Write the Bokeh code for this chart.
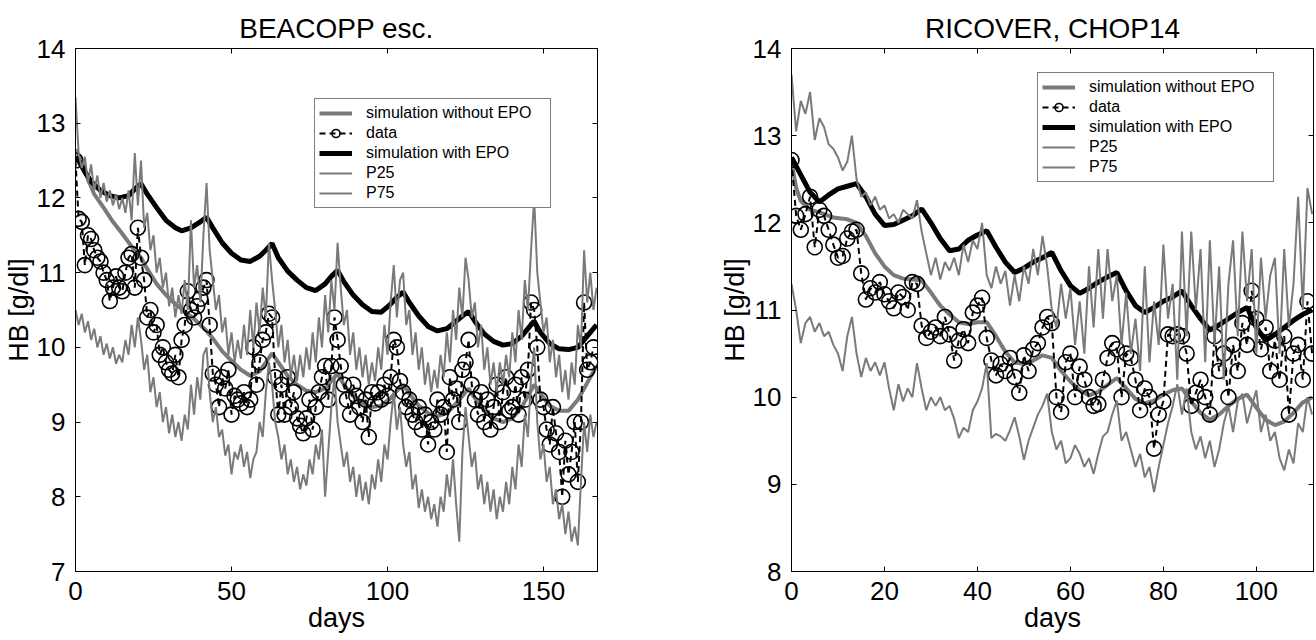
from bokeh.plotting import figure
from bokeh.models import FixedTicker, LinearAxis, Legend, LegendItem, Range1d
from bokeh.layouts import row
from bokeh.embed import file_html
from bokeh.resources import INLINE

FONT = "Liberation Sans"
GRAY = "#7a7a7a"

# ---------------- BEACOPP esc. ----------------
b_title = "BEACOPP esc."
b_xticks = [0, 50, 100, 150]
b_yticks = [7, 8, 9, 10, 11, 12, 13, 14]

b_sim_days = [0, 2, 4, 6, 9, 12, 15, 18, 21, 23, 26, 29, 32, 35, 38, 42, 44, 47, 50, 53, 56, 59, 61, 63,
              65, 68, 71, 74, 77, 80, 82, 84, 86, 89, 92, 95, 98, 101, 103, 105, 107, 110, 113, 116, 119,
              122, 124, 126, 128, 131, 134, 137, 140, 143, 145, 147, 149, 152, 155, 158, 161, 163, 165, 167]
b_sim_noepo = [12.65, 12.5, 12.25, 12.05, 11.87, 11.68, 11.52, 11.35, 11.2, 11.05, 10.85, 10.7, 10.58, 10.48,
               10.38, 10.22, 10.12, 9.95, 9.82, 9.7, 9.62, 9.68, 9.8, 9.92, 9.8, 9.62, 9.5, 9.42, 9.4, 9.45,
               9.55, 9.65, 9.5, 9.35, 9.25, 9.2, 9.22, 9.32, 9.42, 9.5, 9.38, 9.22, 9.12, 9.08, 9.12, 9.25,
               9.35, 9.45, 9.32, 9.15, 9.05, 9.0, 9.05, 9.2, 9.35, 9.5, 9.38, 9.22, 9.15, 9.15, 9.3, 9.45,
               9.6, 9.75]

b_epo_days = [0, 1, 3, 5, 8, 11, 14, 17, 19, 21, 23, 26, 29, 32, 34, 37, 40, 42, 44, 47, 50, 53, 56, 59, 61,
              63, 65, 68, 71, 74, 77, 80, 82, 84, 86, 89, 92, 95, 98, 101, 103, 105, 107, 110, 113, 116, 119,
              122, 124, 126, 128, 131, 134, 137, 140, 143, 145, 147, 149, 152, 155, 158, 161, 163, 165, 167]
b_sim_epo = [12.55, 12.5, 12.35, 12.22, 12.1, 12.03, 12.0, 12.03, 12.12, 12.19, 12.05, 11.87, 11.7, 11.6,
             11.56, 11.6, 11.68, 11.74, 11.6, 11.4, 11.26, 11.17, 11.15, 11.22, 11.3, 11.39, 11.2, 11.02,
             10.9, 10.8, 10.76, 10.85, 10.95, 11.03, 10.88, 10.7, 10.57, 10.48, 10.47, 10.58, 10.67, 10.74,
             10.6, 10.42, 10.28, 10.22, 10.25, 10.35, 10.42, 10.48, 10.35, 10.18, 10.08, 10.03, 10.05,
             10.15, 10.25, 10.35, 10.2, 10.05, 9.98, 9.97, 10.0, 10.1, 10.2, 10.3]

b_data_days = list(range(167))
b_data = [12.5, 11.72, 11.68, 11.1, 11.5, 11.45, 11.3, 11.2, 11.15, 11.0, 10.9, 10.62, 10.8, 10.95, 10.8,
          10.75, 11.0, 11.2, 11.25, 10.8, 11.6, 11.2, 10.9, 10.4, 10.5, 10.2, 10.3, 9.9, 10.0, 9.8, 9.7,
          9.65, 9.9, 9.6, 10.1, 10.3, 10.75, 10.5, 10.4, 10.55, 10.65, 10.8, 10.9, 10.3, 9.65, 9.5, 9.2,
          9.6, 9.45, 9.7, 9.1, 9.35, 9.3, 9.25, 9.4, 9.2, 9.3, 10.0, 9.5, 9.8, 10.1, 10.2, 10.45, 10.4,
          9.6, 9.1, 9.5, 9.1, 9.6, 9.2, 9.4, 9.05, 8.95, 8.85, 9.05, 9.3, 8.9, 9.2, 9.4, 9.6, 9.75, 9.3,
          9.75, 10.4, 10.1, 9.75, 9.5, 9.3, 9.1, 9.5, 9.35, 9.2, 9.0, 9.3, 8.8, 9.4, 9.25, 9.4, 9.3, 9.5,
          9.35, 9.6, 10.1, 10.0, 9.55, 9.4, 9.2, 9.3, 9.1, 9.0, 9.2, 8.9, 9.1, 8.7, 9.0, 8.9, 9.3, 9.1,
          9.2, 8.6, 9.6, 9.3, 9.45, 9.0, 9.7, 9.8, 10.1, 9.5, 9.3, 9.1, 9.4, 9.0, 9.3, 8.9, 9.2, 9.5,
          9.0, 9.4, 9.6, 9.15, 9.2, 9.5, 9.1, 9.6, 9.3, 9.7, 10.6, 10.5, 10.0, 9.3, 9.2, 8.9, 8.7, 9.2,
          8.85, 8.6, 8.0, 8.75, 8.3, 8.6, 9.0, 8.2, 9.0, 10.6, 9.7, 9.8, 10.0]

b_p_days = list(range(168))
b_p25 = [10.5, 10.3, 10.45, 10.2, 10.35, 10.1, 10.25, 10.0, 10.15, 9.9, 10.05, 9.85, 10.0, 9.78, 9.9, 9.8,
         10.1, 9.9, 10.3, 10.0, 10.4, 10.1, 9.7, 9.9, 9.4, 9.6, 9.2, 9.4, 9.0, 9.2, 8.85, 9.1, 8.8, 9.0,
         8.75, 9.1, 8.9, 9.5, 9.1, 9.6, 9.3, 9.9, 10.0, 9.4, 9.0, 9.2, 8.8, 8.9, 8.55, 8.7, 8.3, 8.6, 8.5,
         8.7, 8.4, 8.6, 8.25, 8.5, 8.6, 9.0, 8.8, 9.4, 9.8, 9.5, 9.0, 8.8, 8.5, 8.7, 8.3, 8.5, 8.2, 8.4,
         8.1, 8.3, 8.15, 8.5, 8.3, 8.7, 8.5, 8.9, 8.0, 8.6, 9.2, 9.6, 9.0, 8.7, 8.4, 8.6, 8.2, 8.4, 8.0,
         8.3, 7.95, 8.2, 7.9, 8.3, 8.1, 8.5, 8.2, 8.7, 8.5, 9.0, 9.4, 8.9, 9.2, 8.7, 8.4, 8.6, 8.1, 8.3,
         7.85, 8.1, 7.8, 8.0, 7.7, 7.9, 7.6, 8.0, 7.8, 8.3, 8.0, 8.5, 7.9, 7.4, 8.6, 9.2, 8.8, 8.4, 8.6,
         8.1, 8.3, 7.9, 8.2, 7.8, 8.1, 7.7, 8.0, 7.8, 8.2, 7.9, 8.4, 8.1, 8.7, 8.4, 9.1, 8.8, 9.6, 10.0,
         9.0, 8.5, 8.7, 8.2, 8.4, 7.9, 8.1, 7.7, 7.9, 7.5, 7.8, 7.4, 7.6, 7.35, 8.2, 9.0, 8.6, 9.1, 8.8,
         9.0]
b_p75 = [13.35, 12.6, 12.4, 12.55, 12.2, 12.45, 12.1, 12.3, 12.0, 12.2, 11.95, 12.1, 11.9, 12.05, 11.85,
         12.0, 11.8, 12.1, 11.7, 12.6, 11.9, 12.5, 11.6, 11.8, 11.3, 11.5, 11.0, 11.2, 10.8, 11.0, 10.55,
         10.8, 10.4, 10.7, 10.45, 10.9, 10.5, 11.7, 10.8, 11.1, 10.6, 11.5, 12.2, 11.3, 10.9, 10.5, 10.7,
         10.2, 10.4, 9.9, 10.2, 9.8, 10.1, 9.85, 10.3, 9.9, 10.5, 10.0, 10.6, 10.2, 10.8, 10.4, 11.4, 10.9,
         10.5, 10.0, 10.3, 9.8, 10.1, 9.6, 9.9, 9.55, 9.9, 9.6, 10.0, 9.7, 10.2, 9.8, 10.4, 10.0, 10.7,
         10.2, 10.9, 10.5, 11.4, 10.8, 10.3, 10.5, 9.9, 10.2, 9.7, 10.0, 9.6, 9.9, 9.5, 9.8, 9.55, 10.0,
         9.7, 10.3, 9.9, 10.6, 11.1, 10.4, 10.9, 11.0, 10.3, 10.5, 9.9, 10.2, 9.7, 10.0, 9.5, 9.8, 9.4,
         9.7, 9.45, 9.9, 9.6, 10.2, 9.8, 10.5, 10.1, 10.8, 10.4, 11.2, 10.9, 10.4, 10.6, 10.0, 10.3, 9.7,
         10.0, 9.5, 9.8, 9.4, 9.8, 9.5, 9.9, 9.6, 10.2, 9.8, 10.5, 10.1, 10.9, 10.5, 11.3, 12.0, 11.0,
         10.6, 10.2, 10.4, 9.8, 10.1, 9.6, 9.9, 9.4, 9.7, 9.3, 9.8, 9.5, 10.3, 10.0, 11.3, 10.6, 11.0,
         10.5, 10.8]

# ---------------- RICOVER, CHOP14 ----------------
r_title = "RICOVER, CHOP14"
r_xticks = [0, 20, 40, 60, 80, 100]
r_yticks = [8, 9, 10, 11, 12, 13, 14]

r_sim_days = [0, 1, 2, 4, 6, 9, 12, 14, 16, 18, 20, 22, 24, 26, 28, 30, 32, 34, 36, 38, 40, 42, 44, 46, 48,
              50, 52, 54, 56, 58, 60, 62, 64, 66, 68, 70, 72, 74, 76, 78, 80, 82, 84, 86, 88, 90, 92, 94,
              96, 98, 100, 102, 104, 106, 108, 110, 112]
r_sim_noepo = [12.7, 12.4, 12.25, 12.15, 12.12, 12.06, 12.04, 12.0, 11.85, 11.65, 11.5, 11.4, 11.36, 11.35,
               11.34, 11.2, 11.05, 10.95, 10.86, 10.84, 10.86, 10.86, 10.7, 10.52, 10.4, 10.38, 10.42,
               10.48, 10.45, 10.3, 10.18, 10.08, 10.02, 10.06, 10.14, 10.22, 10.1, 9.98, 9.93, 9.96, 10.03,
               10.08, 10.1, 9.95, 9.82, 9.74, 9.8, 9.9, 9.98, 10.03, 9.88, 9.74, 9.68, 9.72, 9.82, 9.94, 10.0]

r_epo_days = [0, 2, 4, 6, 8, 10, 12, 14, 16, 18, 20, 22, 24, 26, 28, 30, 32, 34, 36, 38, 40, 42, 44, 46, 48,
              50, 52, 54, 56, 58, 60, 62, 64, 66, 68, 70, 72, 74, 76, 78, 80, 82, 84, 86, 88, 90, 92, 94,
              96, 98, 100, 102, 104, 106, 108, 110, 112]
r_sim_epo = [12.75, 12.55, 12.35, 12.24, 12.32, 12.39, 12.42, 12.45, 12.3, 12.1, 11.97, 11.98, 12.03,
             12.08, 12.16, 12.0, 11.82, 11.68, 11.7, 11.8, 11.86, 11.91, 11.72, 11.55, 11.43, 11.48, 11.55,
             11.6, 11.66, 11.45, 11.28, 11.19, 11.25, 11.32, 11.38, 11.43, 11.22, 11.05, 10.97, 11.03, 11.1,
             11.15, 11.22, 11.05, 10.9, 10.77, 10.83, 10.9, 10.97, 11.03, 10.8, 10.65, 10.72, 10.8, 10.88,
             10.95, 11.0]

r_data_days = list(range(113))
r_data = [12.72, 12.08, 11.92, 12.1, 12.3, 11.72, 12.15, 12.08, 11.92, 11.75, 11.6, 11.62, 11.82, 11.9,
          11.92, 11.42, 11.12, 11.25, 11.2, 11.32, 11.18, 11.1, 11.02, 11.2, 11.15, 11.0, 11.32, 11.3,
          10.82, 10.68, 10.75, 10.8, 10.7, 10.92, 10.72, 10.42, 10.65, 10.78, 10.62, 10.97, 11.05, 11.14,
          10.68, 10.42, 10.25, 10.38, 10.3, 10.45, 10.23, 10.05, 10.48, 10.3, 10.55, 10.62, 10.8, 10.92,
          10.85, 10.0, 9.83, 10.4, 10.5, 10.0, 10.35, 10.2, 10.0, 9.9, 9.92, 10.2, 10.45, 10.62, 10.55,
          10.0, 10.5, 10.45, 10.2, 9.85, 10.1, 10.0, 9.41, 9.8, 9.95, 10.72, 10.7, 10.72, 10.7, 10.5, 9.9,
          10.05, 10.2, 10.0, 9.8, 10.7, 10.3, 10.5, 10.0, 10.6, 10.3, 10.85, 10.6, 11.22, 10.9, 10.55,
          10.8, 10.3, 10.65, 10.2, 10.7, 9.8, 10.5, 10.6, 10.2, 11.1, 10.5]

r_p_days = list(range(113))
r_p25 = [11.3, 11.0, 10.62, 10.85, 10.92, 10.75, 10.85, 10.7, 10.75, 10.6, 10.5, 10.3, 10.7, 10.92, 10.5,
         10.23, 10.45, 10.3, 10.4, 10.25, 10.4, 10.1, 9.85, 10.15, 9.95, 10.1, 10.0, 10.39, 10.1, 9.85,
         10.0, 9.9, 10.0, 9.85, 9.9, 9.75, 9.53, 9.65, 9.6, 9.85, 9.95, 10.1, 10.39, 9.53, 9.58, 9.55, 9.5,
         9.62, 9.77, 9.55, 9.28, 9.5, 9.65, 9.8, 9.9, 10.04, 9.6, 9.4, 9.5, 9.24, 9.3, 9.45, 9.35, 9.2,
         9.3, 9.12, 9.35, 9.55, 9.6, 9.8, 9.96, 9.5, 9.6, 9.4, 9.2, 9.35, 9.08, 9.2, 8.91, 9.2, 9.45, 9.7,
         9.9, 10.15, 9.8, 10.1, 9.6, 9.4, 9.55, 9.3, 9.5, 9.2, 9.4, 9.7, 9.9, 9.6, 9.95, 10.04, 9.7, 9.9,
         10.08, 9.6, 9.8, 9.5, 9.6, 9.3, 9.16, 9.4, 9.24, 9.7, 9.6, 10.0, 9.8]
r_p75 = [13.7, 13.05, 13.4, 13.25, 13.5, 12.95, 13.2, 13.1, 12.9, 12.85, 12.75, 12.6, 12.7, 13.0, 12.5, 12.3,
         12.35, 12.2, 12.3, 12.15, 12.2, 12.05, 12.1, 12.0, 12.15, 12.1, 12.05, 12.26, 11.9, 11.65, 11.4,
         11.6, 11.35, 11.55, 11.45, 11.6, 11.4, 11.75, 11.55, 11.8, 11.7, 12.0, 11.4, 11.25, 11.5, 11.3,
         11.45, 11.05, 11.4, 11.1, 11.5, 11.3, 11.7, 11.4, 11.85, 11.5, 11.0, 10.8, 11.3, 10.9, 11.25,
         10.6, 11.1, 10.5, 11.5, 10.8, 11.7, 10.9, 11.7, 11.1, 11.4, 10.6, 11.2, 10.5, 10.9, 10.3, 11.5,
         10.4, 11.1, 10.6, 11.75, 10.9, 11.3, 10.2, 11.9, 10.7, 11.9, 11.0, 11.7, 10.4, 11.8, 10.6, 11.5,
         10.2, 11.3, 11.8, 10.7, 11.9, 11.1, 11.7, 10.5, 11.6, 10.9, 11.4, 11.6, 10.5, 11.7, 10.8, 11.3,
         12.3, 11.0, 12.4, 12.1]


def style_axis(ax, ticks, show_labels=True):
    ax.ticker = FixedTicker(ticks=ticks)
    ax.axis_line_color = "black"
    ax.axis_line_width = 1
    ax.major_tick_line_color = "black"
    ax.major_tick_in = 5
    ax.major_tick_out = 0
    ax.minor_tick_line_color = None
    ax.major_label_text_font = FONT
    if show_labels:
        ax.major_label_text_color = "black"
        ax.major_label_text_font_size = "26px"
        ax.major_label_standoff = 10
    else:
        # box-only axis: ticks but no labels drawn
        ax.major_label_text_color = None
        ax.major_label_text_font_size = "1px"
        ax.major_label_standoff = 0


def panel(title, xmax, ymin, ymax, xticks, yticks, sim_d, sim_no, epo_d, sim_epo,
          data_d, data_v, p_d, p25, p75, width, bl, br, leg_loc):
    p = figure(width=width, height=640, x_range=Range1d(0, xmax), y_range=Range1d(ymin, ymax),
               output_backend="svg", toolbar_location=None,
               min_border_left=bl, min_border_right=br, min_border_top=48, min_border_bottom=69)
    p.grid.visible = False
    p.outline_line_color = "black"
    p.background_fill_color = "white"
    p.border_fill_color = "white"
    p.title.text = title
    p.title.align = "center"
    p.title.text_font = FONT
    p.title.text_font_size = "28px"
    p.title.text_font_style = "normal"
    p.title.text_color = "black"

    style_axis(p.xaxis[0], xticks)
    style_axis(p.yaxis[0], yticks)
    p.xaxis.axis_label = "days"
    p.yaxis.axis_label = "HB [g/dl]"
    for ax in (p.xaxis[0], p.yaxis[0]):
        ax.axis_label_text_font = FONT
        ax.axis_label_text_font_size = "27px"
        ax.axis_label_text_font_style = "normal"
        ax.axis_label_text_color = "black"
        ax.axis_label_standoff = 0

    top = LinearAxis()
    style_axis(top, xticks, show_labels=False)
    p.add_layout(top, "above")
    right = LinearAxis()
    style_axis(right, yticks, show_labels=False)
    p.add_layout(right, "right")

    r_no = p.line(sim_d, sim_no, line_color=GRAY, line_width=4)
    r_dl = p.line(data_d, data_v, line_color="black", line_width=2, line_dash="6 4")
    r_dc = p.scatter(data_d, data_v, marker="circle", size=15, fill_color=None,
                     line_color="black", line_width=1.6)
    r_epo = p.line(epo_d, sim_epo, line_color="black", line_width=5)
    r_25 = p.line(p_d, p25, line_color=GRAY, line_width=2)
    r_75 = p.line(p_d, p75, line_color=GRAY, line_width=2)

    legend = Legend(items=[
        LegendItem(label="simulation without EPO", renderers=[r_no]),
        LegendItem(label="data", renderers=[r_dl, r_dc]),
        LegendItem(label="simulation with EPO", renderers=[r_epo]),
        LegendItem(label="P25", renderers=[r_25]),
        LegendItem(label="P75", renderers=[r_75]),
    ], location=leg_loc)
    legend.label_text_font = FONT
    legend.label_text_font_size = "16px"
    legend.label_text_color = "black"
    legend.glyph_width = 33
    legend.glyph_height = 20
    legend.label_height = 20
    legend.label_width = 180
    legend.label_standoff = 14
    legend.spacing = 0
    legend.padding = 4
    legend.margin = 0
    legend.border_line_color = "black"
    legend.border_line_width = 1
    legend.background_fill_color = "white"
    legend.background_fill_alpha = 1.0
    p.add_layout(legend)
    return p


p1 = panel(b_title, 167.3, 7, 14, b_xticks, b_yticks, b_sim_days, b_sim_noepo, b_epo_days, b_sim_epo,
           b_data_days, b_data, b_p_days, b_p25, b_p75, 617, 75, 20, (239, 363))
p2 = panel(r_title, 112.3, 8, 14, r_xticks, r_yticks, r_sim_days, r_sim_noepo, r_epo_days, r_sim_epo,
           r_data_days, r_data, r_p_days, r_p25, r_p75, 699, 174, 3, (246, 389))

layout = row(p1, p2)
open("out.html", "w").write(file_html(layout, INLINE))
